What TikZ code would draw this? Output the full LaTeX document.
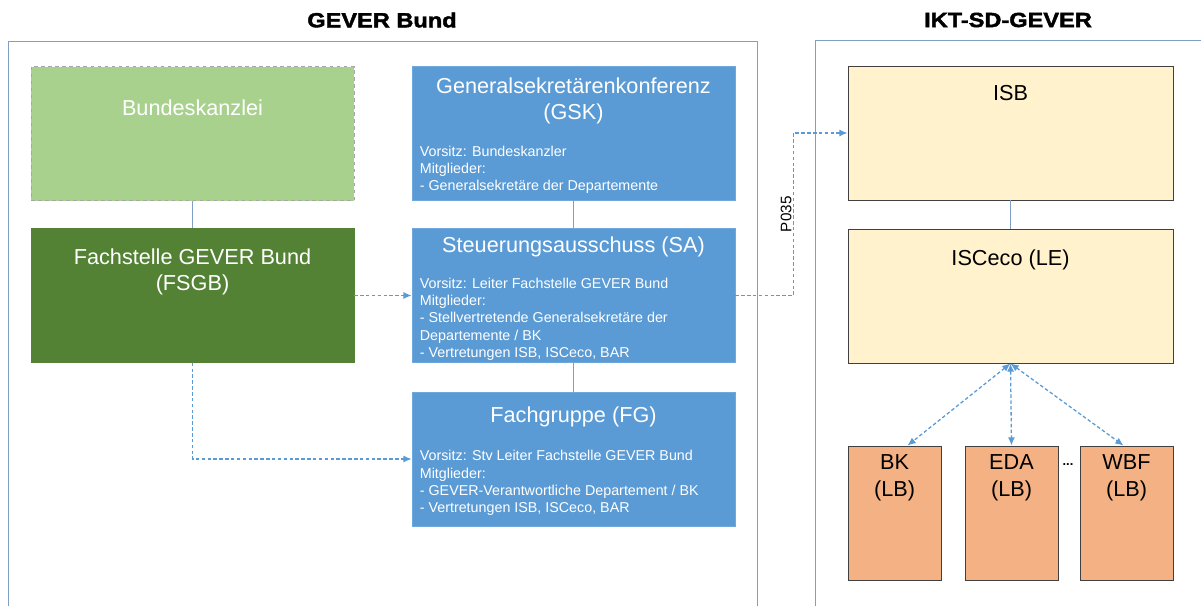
\documentclass[tikz,border=0pt]{standalone}
\usepackage{fontspec}
\setmainfont{Liberation Sans}
\newfontfamily\headfont[FakeStretch=1.15,FakeBold=2]{Liberation Sans}
\usetikzlibrary{positioning,calc,arrows.meta}

\definecolor{gsblue}{HTML}{5B9BD5}
\definecolor{gsblueline}{HTML}{6FA8DC}
\definecolor{framecol}{HTML}{7F9FC4}
\definecolor{palegreen}{HTML}{A9D18E}
\definecolor{darkgreen}{HTML}{548235}
\definecolor{isbyellow}{HTML}{FFF2CC}
\definecolor{lborange}{HTML}{F4B183}
\definecolor{darkline}{HTML}{404040}

\tikzset{
    frameline/.style={draw=framecol, line width=0.7pt},
    tie/.style={draw=framecol, line width=0.7pt},
    box/.style={rectangle, minimum width=9.69cm, minimum height=4.02cm, inner sep=0pt},
    govbox/.style={box, fill=gsblue, draw=gsblueline, line width=0.6pt},
    isbox/.style={box, minimum width=9.75cm, fill=isbyellow, draw=darkline, line width=0.8pt},
    lbbox/.style={rectangle, minimum width=2.79cm, minimum height=4.02cm, inner sep=0pt,
        fill=lborange, draw=darkline, line width=0.8pt},
    heading/.style={inner sep=0pt, font=\headfont\bfseries\fontsize{17.5}{19}\selectfont},
    titletext/.style={anchor=north, inner sep=0pt, align=center,
        font=\fontsize{18.5}{22.5}\selectfont},
    bodytext/.style={anchor=north west, inner sep=0pt, align=left, text=white,
        font=\fontsize{12.2}{14.75}\selectfont},
    link/.style={draw=gsblue, dash pattern=on 3pt off 2pt, line width=1.1pt,
        -{Latex[length=7pt,width=6pt]}},
    linkboth/.style={link, {Latex[length=7pt,width=6pt]}-{Latex[length=7pt,width=6pt]}}
}

\begin{document}
\begin{tikzpicture}[x=0.03cm, y=-0.03cm]
    \useasboundingbox (0,0) rectangle (1201,606);

    % Frames and headings
    \draw[frameline] (8,606) -- (8,41) -- (757,41) -- (757,606);
    \draw[frameline] (815,606) -- (815,40) -- (1201,40);
    \node[heading] (bundhead) at (382,20) {GEVER Bund};
    \node[heading] (iktsdhead) at (1008,20) {IKT-SD-GEVER};

    % GEVER Bund, left column
    \node[box, fill=palegreen, draw=gray!70, dashed, line width=0.6pt] (bkz) at (192.5,133.5) {};
    \node[box, fill=darkgreen, draw=darkgreen] (fsgb) at (192.5,295.5) {};
    \node[titletext, text=white] (bkzlabel) at ($(bkz.north)+(0,33)$) {Bundeskanzlei};
    \node[titletext, text=white] (fsgblabel) at ($(fsgb.north)+(0,20)$) {Fachstelle GEVER Bund\\(FSGB)};

    % GEVER Bund, committees
    \node[govbox] (gsk) at (573.5,133.5) {};
    \node[govbox] (sa) at (573.5,295.5) {};
    \node[govbox] (fg) at (573.5,459) {};

    \node[titletext, text=white] (gsklabel) at ($(gsk.north)+(0,11)$) {Generalsekretärenkonferenz\\(GSK)};
    \node[bodytext] (gskbody) at ($(gsk.north west)+(8,79.5)$)
        {Vorsitz: Bundeskanzler\\Mitglieder:\\- Generalsekretäre der Departemente};

    \node[titletext, text=white] (salabel) at ($(sa.north)+(0,8)$) {Steuerungsausschuss (SA)};
    \node[bodytext] (sabody) at ($(sa.north west)+(8,49.5)$)
        {Vorsitz: Leiter Fachstelle GEVER Bund\\Mitglieder:\\- Stellvertretende Generalsekretäre der\\Departemente / BK\\- Vertretungen ISB, ISCeco, BAR};

    \node[titletext, text=white] (fglabel) at ($(fg.north)+(0,15)$) {Fachgruppe (FG)};
    \node[bodytext] (fgbody) at ($(fg.north west)+(8,58.5)$)
        {Vorsitz: Stv Leiter Fachstelle GEVER Bund\\Mitglieder:\\- GEVER-Verantwortliche Departement / BK\\- Vertretungen ISB, ISCeco, BAR};

    % IKT-SD-GEVER
    \node[isbox] (isb) at (1010.5,133) {};
    \node[isbox] (isceco) at (1010.5,296) {};
    \node[titletext] (isblabel) at ($(isb.north)+(0,20)$) {ISB};
    \node[titletext] (iscecolabel) at ($(isceco.north)+(0,21)$) {ISCeco (LE)};

    \node[lbbox] (bk) at (894.5,513) {};
    \node[lbbox] (eda) at (1011.5,513) {};
    \node[lbbox] (wbf) at (1126.5,513) {};
    \node[titletext] (bklabel) at ($(bk.north)+(0,9)$) {BK\\(LB)};
    \node[titletext] (edalabel) at ($(eda.north)+(0,9)$) {EDA\\(LB)};
    \node[titletext] (wbflabel) at ($(wbf.north)+(0,9)$) {WBF\\(LB)};
    \node[inner sep=0pt, font=\bfseries\fontsize{11}{12}\selectfont] (dots) at (1068,465) {...};

    % Solid ties
    \draw[tie] (bkz.south) -- (fsgb.north);
    \draw[tie] (gsk.south) -- (sa.north);
    \draw[tie] (sa.south) -- (fg.north);
    \draw[tie] (isb.south) -- (isceco.north);

    % Dashed links
    \draw[link] (fsgb.east) -- (sa.west);
    \draw[link] (fsgb.south) |- (fg.west);
    \draw[link] (sa.east) -- ++(58,0) |- node[pos=0.25, rotate=90, anchor=south, inner sep=1pt,
        font=\fontsize{13}{15}\selectfont] (p035) {P035} (isb.west);
    \draw[linkboth] (isceco.south) -- ($(bk.north)+(13,0)$);
    \draw[linkboth] (isceco.south) -- (eda.north);
    \draw[linkboth] (isceco.south) -- ($(wbf.north)+(-3,0)$);
\end{tikzpicture}
\end{document}
